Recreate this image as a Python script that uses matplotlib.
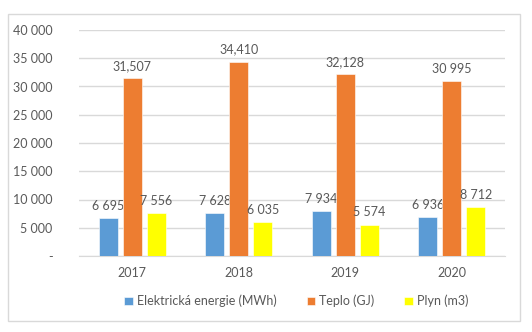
import matplotlib.pyplot as plt
import numpy as np
from matplotlib.patches import Rectangle

# Data
years = ['2017', '2018', '2019', '2020']
elektrina = [6695, 7628, 7934, 6936]
teplo = [31507, 34410, 32128, 30995]
plyn = [7556, 6035, 5574, 8712]
# popisky tak, jak jsou v grafu (ruzne formaty)
elektrina_lbl = ['6 695', '7 628', '7 934', '6 936']
teplo_lbl = ['31,507', '34,410', '32,128', '30 995']
plyn_lbl = ['7 556', '6 035', '5 574', '8 712']
series_names = ['Elektrická energie (MWh)', 'Teplo (GJ)', 'Plyn (m3)']

yticks = [0, 5000, 10000, 15000, 20000, 25000, 30000, 35000, 40000]
ytick_lbl = ['-', '5 000', '10 000', '15 000', '20 000', '25 000', '30 000', '35 000', '40 000']

colors = ['#5b9bd5', '#ed7d31', '#ffff00']
txt = '#595959'
plt.rcParams['font.family'] = ['Lato', 'DejaVu Sans']

fig = plt.figure(figsize=(5.32, 3.32), dpi=100)
# ramecek grafu
fig.patches.append(Rectangle((8 / 532, 1 - 321 / 332), 512 / 532, 307 / 332,
                             transform=fig.transFigure, fill=False,
                             edgecolor='#d9d9d9', linewidth=1))
ax = fig.add_axes([79 / 532, 1 - 256 / 332, 426 / 532, 226 / 332])

x = np.arange(len(years))
w = 0.175
off = 0.225
data = [elektrina, teplo, plyn]
labels = [elektrina_lbl, teplo_lbl, plyn_lbl]
for i in range(3):
    pos = x + (i - 1) * off
    ax.bar(pos, data[i], width=w, color=colors[i], edgecolor='white',
           linewidth=0.4, label=series_names[i], zorder=3)
    for px, v, s in zip(pos, data[i], labels[i]):
        ax.annotate(s, (px, v), xytext=(0, 4.5), textcoords='offset points',
                    ha='center', va='bottom', fontsize=9, color=txt)

ax.set_xlim(-0.5, 3.5)
ax.set_ylim(0, 40000)
ax.set_yticks(yticks)
ax.set_yticklabels(ytick_lbl)
ax.set_xticks(x)
ax.set_xticklabels(years)
ax.grid(axis='y', color='#d9d9d9', linewidth=1, zorder=0)
for s in ['top', 'right', 'left']:
    ax.spines[s].set_visible(False)
ax.spines['bottom'].set_color('#d9d9d9')
ax.tick_params(axis='both', length=0, labelsize=9, colors=txt)
ax.tick_params(axis='y', pad=19)
ax.tick_params(axis='x', pad=8)

ax.legend(loc='center', bbox_to_anchor=(0.51, -0.2), ncol=3, frameon=False,
          fontsize=9, labelcolor=txt, handlelength=0.7, handleheight=0.7,
          handletextpad=0.3, columnspacing=2.4)

fig.savefig('out.png', dpi=100)
